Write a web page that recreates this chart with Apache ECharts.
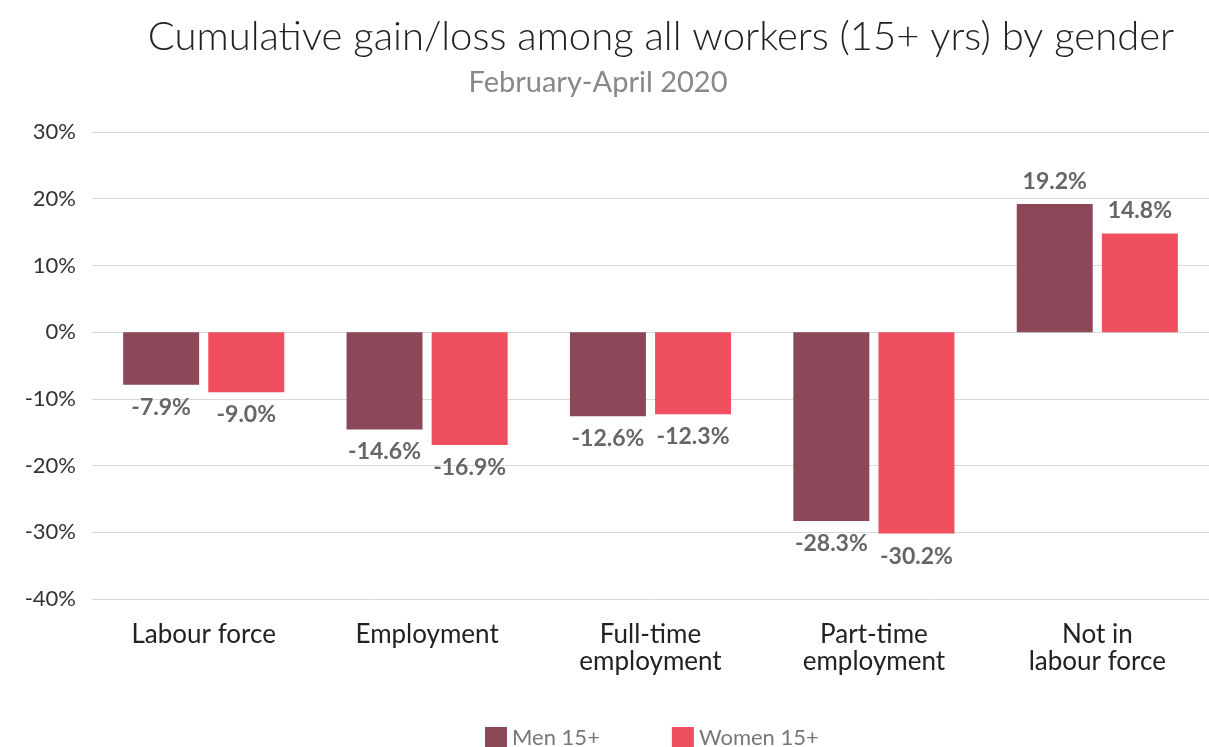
<!DOCTYPE html>
<html><head><meta charset="utf-8">
<script src="https://cdn.jsdelivr.net/npm/echarts@6/dist/echarts.min.js"></script>
<style>html,body{margin:0;padding:0;background:#fff}#c{width:1209px;height:747px}</style>
</head><body><div id="c"></div>
<script>
const categories = ['Labour force', 'Employment', 'Full-time\nemployment', 'Part-time\nemployment', 'Not in\nlabour force'];
const menValues = [-7.9, -14.6, -12.6, -28.3, 19.2];
const womenValues = [-9.0, -16.9, -12.3, -30.2, 14.8];
const seriesNames = ['Men 15+', 'Women 15+'];
const FONT = 'Lato, "Open Sans", sans-serif';
const chart = echarts.init(document.getElementById('c'));
function lbl(v){ return {show:true, position: v<0?'bottom':'top', distance:11, color:'#666', fontSize:23, fontWeight:'bold', fontFamily:FONT, formatter:p=>p.value.toFixed(1)+'%'}; }
function mk(vals){ return vals.map(v=>({value:v, label:lbl(v)})); }
chart.setOption({
  animation:false,
  title:[
    {text:'Cumulative gain/loss among all workers (15+ yrs) by gender', left:656, top:12, textAlign:'center',
     textStyle:{fontSize:40, fontWeight:300, color:'#222', fontFamily:FONT}},
    {text:'February-April 2020', left:593, top:63, textAlign:'center',
     textStyle:{fontSize:29, fontWeight:'normal', color:'#888', fontFamily:FONT}}
  ],
  legend:{top:722, left:480, itemWidth:22, itemHeight:22, itemGap:72, icon:'rect',
    textStyle:{fontSize:22, color:'#777', fontFamily:FONT}, data:seriesNames},
  grid:{left:92, right:0, top:132, bottom:148},
  xAxis:{type:'category', data:categories, axisLine:{show:false}, axisTick:{show:false},
    axisLabel:{fontSize:26, color:'#222', fontFamily:FONT, lineHeight:27, margin:22, interval:0}},
  yAxis:{type:'value', min:-40, max:30, interval:10,
    axisLabel:{formatter:'{value}%', fontSize:22, color:'#333', fontFamily:FONT, margin:16},
    splitLine:{lineStyle:{color:'#d9d9d9', width:1}}, axisLine:{show:false}, axisTick:{show:false}},
  series:[
    {name:seriesNames[0], type:'bar', data:mk(menValues), itemStyle:{color:'#8A4858'}, barWidth:76, barGap:'12%'},
    {name:seriesNames[1], type:'bar', data:mk(womenValues), itemStyle:{color:'#EF4F5F'}, barWidth:76}
  ]
});
</script></body></html>
